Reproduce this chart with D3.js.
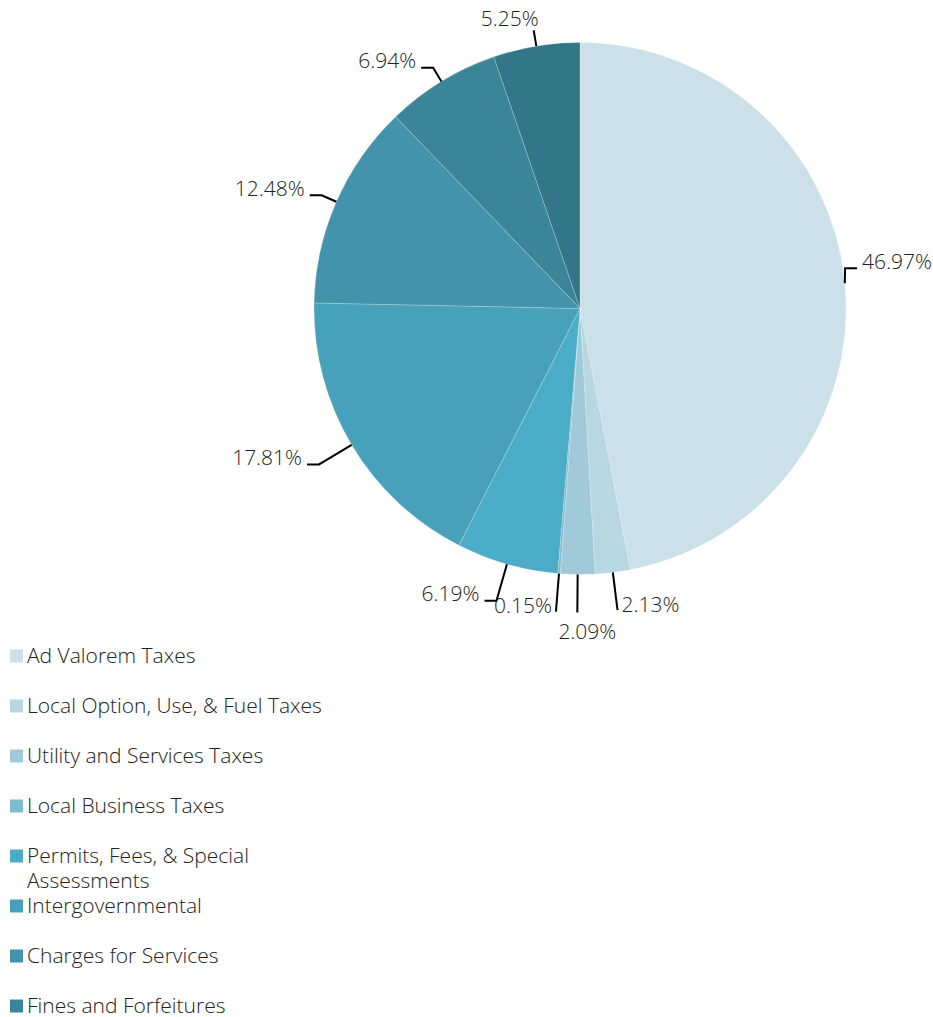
<!DOCTYPE html>
<html>
<head>
<meta charset="utf-8">
<script src="https://cdn.jsdelivr.net/npm/d3@7"></script>
<style>
  body { margin: 0; background: #fff; }
  text { font-family: "Open Sans", sans-serif; font-weight: 300; fill: #222; }
</style>
</head>
<body>
<svg id="chart" width="933" height="1017"></svg>
<script>
var categories = [
    "Ad Valorem Taxes",
    "Local Option, Use, & Fuel Taxes",
    "Utility and Services Taxes",
    "Local Business Taxes",
    "Permits, Fees, & Special\nAssessments",
    "Intergovernmental",
    "Charges for Services",
    "Fines and Forfeitures",
    "Miscellaneous"
];
var shares = [46.97, 2.13, 2.09, 0.15, 6.19, 17.81, 12.48, 6.94, 5.25];
var colours = ["#cbe0e8", "#b7d7e1", "#a1cad8", "#7fbccf", "#4aacc6",
               "#48a1ba", "#4293ab", "#3b8598", "#337687"];

var svg1 = d3.select("#chart"), width = 933, height = 1017;
var cx = 580, cy = 308.5, radius = 266;
var fontSize = 21;

var pie = d3.pie().sort(null).value(function (d) { return d; });
var arc = d3.arc().innerRadius(0).outerRadius(radius);
var arcs = pie(shares);

var g = svg1.append("g").attr("transform", "translate(" + cx + "," + cy + ")");

g.selectAll("path")
    .data(arcs)
    .enter()
    .append("path")
    .attr("d", arc)
    .attr("fill", function (d, i) { return colours[i]; })
    .attr("stroke", "#ffffff")
    .attr("stroke-opacity", 0.35)
    .attr("stroke-width", 0.6);

// leader lines and labels
var hook = 12;
arcs.forEach(function (d) {
    var a = (d.startAngle + d.endAngle) / 2;
    var s = Math.sin(a), c = -Math.cos(a);   // c > 0 : lower half
    var len = c > 0 ? 38 : 16;
    var side = s >= 0 ? 1 : -1;
    var p0 = [s * radius, c * radius];
    var p1 = [s * (radius + len), c * (radius + len)];

    var t = g.append("text")
        .attr("font-size", fontSize)
        .text(d3.format(".2f")(d.value) + "%");
    var tw = t.node().getComputedTextLength();

    var mode;
    if (c < 0 && Math.abs(s) < 0.2) mode = "top";
    else if (c > 0 && Math.abs(s) < 0.05) mode = "bottom";
    else if (c > 0 && Math.abs(s) < 0.2) mode = "side";
    else mode = "hook";

    // keep label inside the picture
    if (mode == "hook" && side > 0) {
        var maxX = width - cx - tw - hook - 6;
        if (p1[0] > maxX) { p1[0] = Math.max(maxX, p0[0]); p1[1] = p0[1] - 15; }
    }

    var pts = [p0, p1];
    if (mode == "hook") pts.push([p1[0] + side * hook, p1[1]]);
    g.append("path")
        .attr("d", d3.line()(pts))
        .attr("fill", "none")
        .attr("stroke", "#000")
        .attr("stroke-width", 2);
    var end = pts[pts.length - 1];

    if (mode == "bottom") {
        t.attr("x", end[0] + 10).attr("y", end[1] + 19).attr("dy", "0.35em").attr("text-anchor", "middle");
    } else if (mode == "top") {
        t.attr("x", end[0] + 5).attr("y", end[1] - 12).attr("dy", "0.35em").attr("text-anchor", "end");
    } else if (mode == "side") {
        t.attr("x", end[0] + side * 4).attr("y", end[1] - 6).attr("dy", "0.35em")
            .attr("text-anchor", side > 0 ? "start" : "end");
    } else {
        t.attr("x", end[0] + side * 5).attr("y", end[1] - 7).attr("dy", "0.35em")
            .attr("text-anchor", side > 0 ? "start" : "end");
    }
});

// legend
var legend = svg1.append("g").attr("transform", "translate(10,656)");
var rows = legend.selectAll("g")
    .data(categories)
    .enter()
    .append("g")
    .attr("transform", function (d, i) { return "translate(0," + i * 50 + ")"; });

rows.append("rect")
    .attr("x", 0).attr("y", -6.5)
    .attr("width", 13).attr("height", 13)
    .attr("fill", function (d, i) { return colours[i]; });

rows.append("text")
    .attr("x", 17)
    .attr("font-size", fontSize)
    .each(function (d) {
        var lines = d.split("\n");
        var txt = d3.select(this);
        lines.forEach(function (l, k) {
            txt.append("tspan")
                .attr("x", 17)
                .attr("y", k * 25)
                .attr("dy", "0.35em")
                .text(l);
        });
    });
</script>
</body>
</html>
